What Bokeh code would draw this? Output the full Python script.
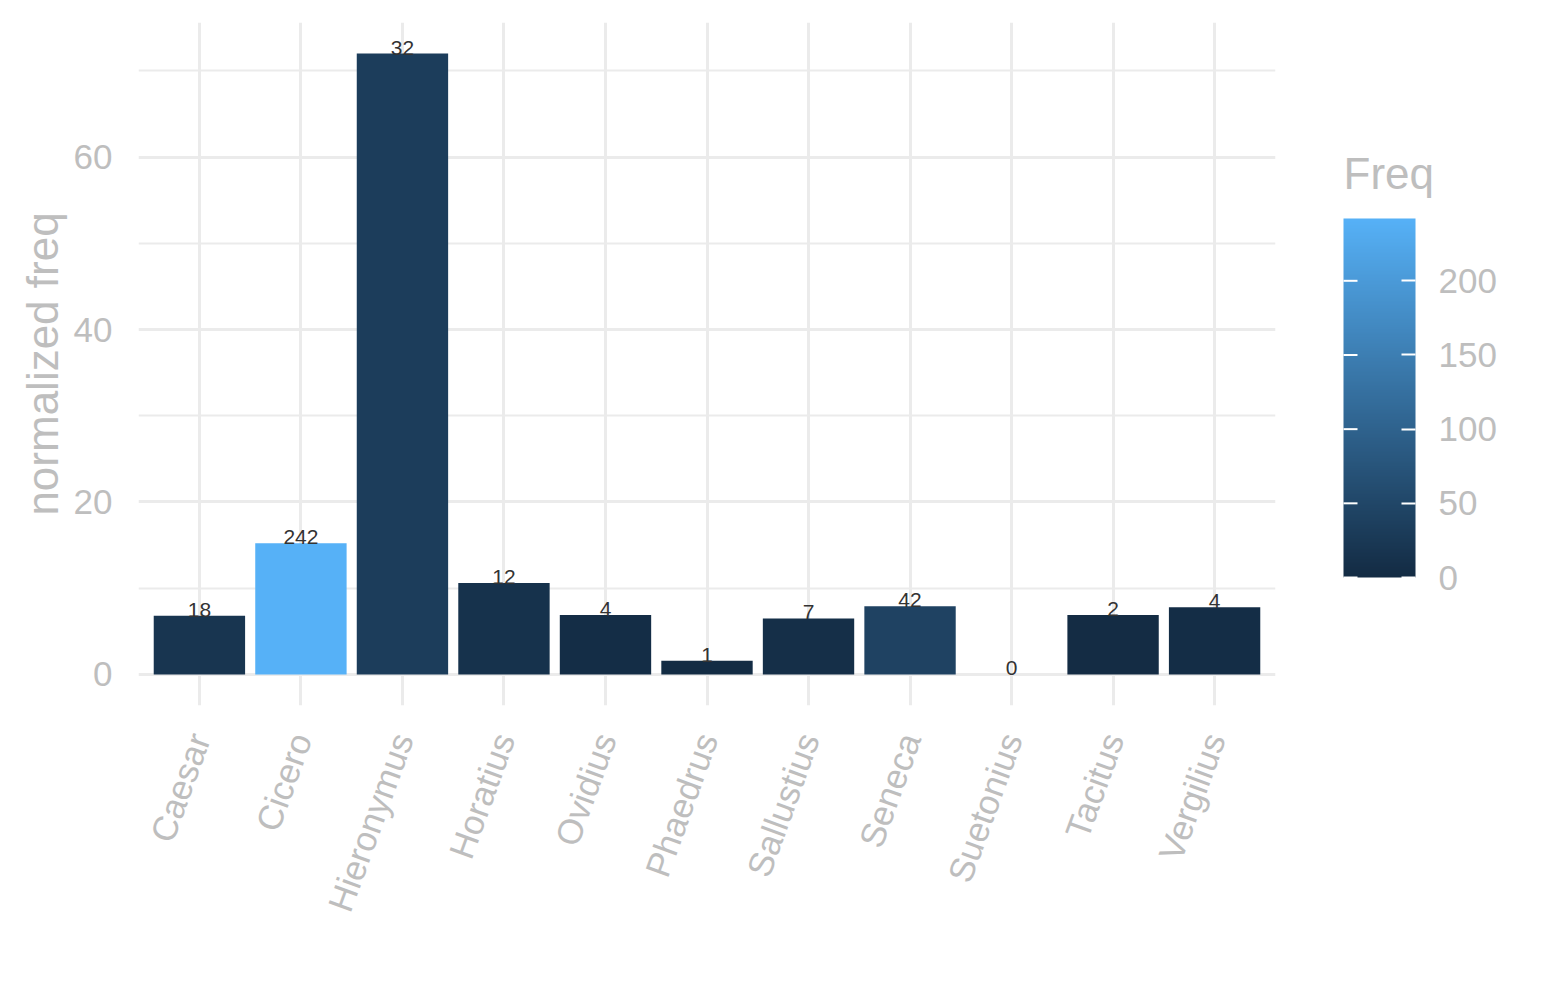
import numpy as np
from bokeh.plotting import figure
from bokeh.layouts import row
from bokeh.models import (ColumnDataSource, Range1d, FactorRange, ColorBar,
                          LinearColorMapper, FixedTicker, Label)
from bokeh.core.properties import value
from bokeh.embed import file_html
from bokeh.resources import INLINE

# data
authors = ["Caesar", "Cicero", "Hieronymus", "Horatius", "Ovidius", "Phaedrus",
           "Sallustius", "Seneca", "Suetonius", "Tacitus", "Vergilius"]
norm_freq = [6.8, 15.2, 72.0, 10.6, 6.9, 1.6, 6.5, 7.9, 0.0, 6.9, 7.8]
freq = [18, 242, 32, 12, 4, 1, 7, 42, 0, 2, 4]
y_ticks = [0, 20, 40, 60]
y_minor = [10, 30, 50, 70]
cb_ticks = [0, 50, 100, 150, 200]

LOW_COL = "#132B43"
HIGH_COL = "#56B1F7"
GREY = "#BEBEBE"
GRID = "#EBEBEB"
FONT = "Liberation Sans"
FRAME_H = 683


def hex2rgb(h):
    return np.array([int(h[i:i + 2], 16) for i in (1, 3, 5)], dtype=float)


def grad(t):
    c = hex2rgb(LOW_COL) * (1 - t) + hex2rgb(HIGH_COL) * t
    return "#%02x%02x%02x" % tuple(int(round(v)) for v in c)


fmax = max(freq)
palette = [grad(t) for t in np.linspace(0, 1, 256)]
colors = [grad(f / fmax) for f in freq]

src = ColumnDataSource(dict(author=authors, nf=norm_freq, freq=freq,
                            lab=[str(f) for f in freq], color=colors))

p = figure(x_range=FactorRange(*authors, range_padding=0.1,
                               range_padding_units="absolute"),
           y_range=Range1d(-3.6, 75.6),
           frame_width=1137, frame_height=FRAME_H,
           output_backend="svg", toolbar_location=None,
           min_border_left=138, min_border_top=22, min_border_bottom=279,
           min_border_right=10)
p.outline_line_color = None

p.vbar(x="author", top="nf", width=0.9, source=src, fill_color="color",
       line_color=None)
p.text(x="author", y="nf", text="lab", source=src, text_align="center",
       text_baseline="bottom", y_offset=1, text_color="#333333",
       text_font=value(FONT), text_font_size="21px")

# axes
p.yaxis.ticker = FixedTicker(ticks=y_ticks, minor_ticks=y_minor)
p.yaxis.axis_label = "normalized freq"
p.xaxis.major_label_orientation = 70 / 180 * np.pi
for ax in (p.xaxis[0], p.yaxis[0]):
    ax.axis_line_color = None
    ax.major_tick_line_color = None
    ax.minor_tick_line_color = None
    ax.major_label_text_color = GREY
    ax.major_label_text_font = FONT
    ax.major_label_text_font_size = "35px"
    ax.major_label_standoff = 20
    ax.axis_label_text_color = GREY
    ax.axis_label_text_font = FONT
    ax.axis_label_text_font_size = "44px"
    ax.axis_label_text_font_style = "normal"
    ax.axis_label_standoff = 4
p.xaxis.major_label_standoff = 23

p.ygrid.grid_line_color = GRID
p.ygrid.grid_line_width = 3
p.ygrid.minor_grid_line_color = GRID
p.ygrid.minor_grid_line_width = 2
p.xgrid.grid_line_color = GRID
p.xgrid.grid_line_width = 3

# colour legend panel (frame aligned with the main one): x in pixels,
# y in Freq units
bar_w, bar_h, bar_x, bar_y = 72, 359, 58, 128
lo = -bar_y * fmax / bar_h
leg = figure(width=244, frame_height=FRAME_H, x_range=Range1d(0, 244),
             y_range=Range1d(lo, lo + FRAME_H * fmax / bar_h),
             x_axis_type=None, y_axis_type=None,
             min_border_left=0, min_border_right=0,
             min_border_top=22, min_border_bottom=279,
             output_backend="svg", toolbar_location=None)
leg.outline_line_color = None
leg.grid.visible = False

mapper = LinearColorMapper(palette=palette, low=0, high=fmax)
cb = ColorBar(color_mapper=mapper, ticker=FixedTicker(ticks=cb_ticks),
              width=bar_w, height=bar_h,
              major_label_text_font=FONT, major_label_text_font_size="35px",
              major_label_text_color=GREY, label_standoff=23,
              major_tick_line_color="white", major_tick_line_width=2,
              major_tick_in=14, major_tick_out=0,
              bar_line_color=None, border_line_color=None,
              background_fill_color=None, padding=0,
              location=(bar_x, bar_y))
leg.add_layout(cb, "center")

# white ticks on the left edge of the bar too
leg.segment(x0=bar_x, x1=bar_x + 14, y0=cb_ticks, y1=cb_ticks,
            line_color="white", line_width=2, level="overlay")

leg.add_layout(Label(x=bar_x, y=532, x_units="screen", y_units="screen",
                     text="Freq", text_font=FONT, text_font_size="44px",
                     text_color=GREY, text_baseline="alphabetic",
                     text_align="left"))

open("out.html", "w").write(file_html(row(p, leg), INLINE))
